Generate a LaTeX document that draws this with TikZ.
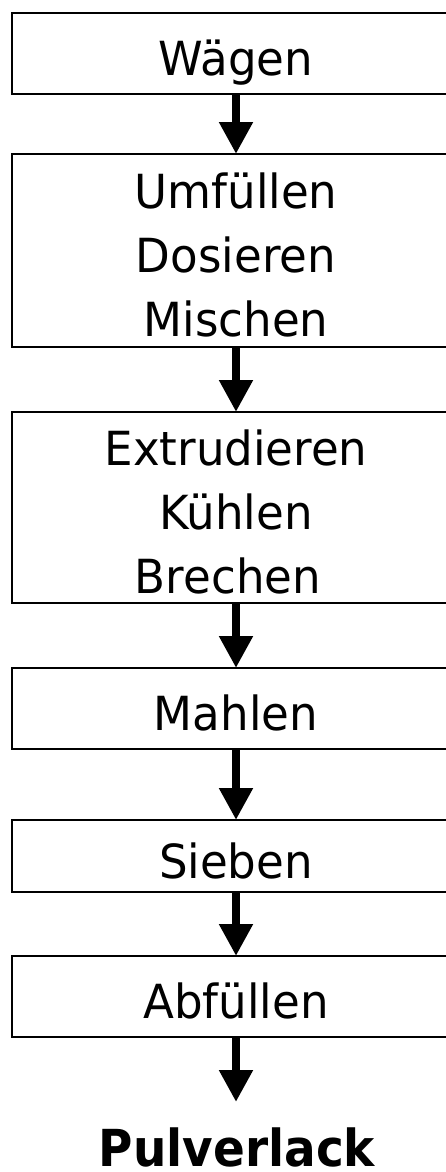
\documentclass[tikz,border=0pt]{standalone}
\usepackage{fontspec}
\setmainfont[FakeStretch=0.96]{DejaVu Sans}
\newfontfamily\productfont[FakeStretch=0.92]{DejaVu Sans}
\usetikzlibrary{arrows.meta}

\tikzset{
  stepbox/.style={draw, line width=2pt, inner sep=0pt, outer sep=0pt,
    minimum width=448pt, anchor=north, align=center,
    font=\fontsize{47pt}{64pt}\selectfont},
  oneline/.style={stepbox, text height=44pt, text depth=0pt},
  threeline/.style={stepbox, text height=172pt, text depth=1pt},
  flow/.style={line width=8pt, -{Triangle[width=32pt,length=32pt]}},
}

\begin{document}
\begin{tikzpicture}[x=1pt, y=-1pt]
  \useasboundingbox (0,0) rectangle (446,1172);
  \clip (0,0) rectangle (446,1172);

  % process steps
  \node[oneline,   minimum height=81pt]  (wg) at (236,13)  {Wägen};
  \node[threeline, minimum height=193pt] (um) at (236,154) {Umfüllen\\Dosieren\\Mischen};
  \node[threeline, minimum height=191pt] (ex) at (236,412) {Extrudieren\\Kühlen\\Brechen\kern16pt};
  \node[oneline,   minimum height=81pt]  (ma) at (236,668) {Mahlen};
  \node[oneline,   minimum height=72pt]  (si) at (236,820) {Sieben};
  \node[oneline,   minimum height=81pt]  (ab) at (236,956) {Abfüllen};

  % final product
  \node[anchor=base, inner sep=0pt, outer sep=0pt, text height=64pt,
        font=\productfont\bfseries\fontsize{51pt}{60pt}\selectfont]
        (pv) at (237,1166) {Pulverlack};

  % flow arrows
  \draw[flow] (wg.south) -- (um.north);
  \draw[flow] (um.south) -- (ex.north);
  \draw[flow] (ex.south) -- (ma.north);
  \draw[flow] (ma.south) -- (si.north);
  \draw[flow] (si.south) -- (ab.north);
  \draw[flow] (ab.south) -- (ab.south |- pv.north);
\end{tikzpicture}
\end{document}
